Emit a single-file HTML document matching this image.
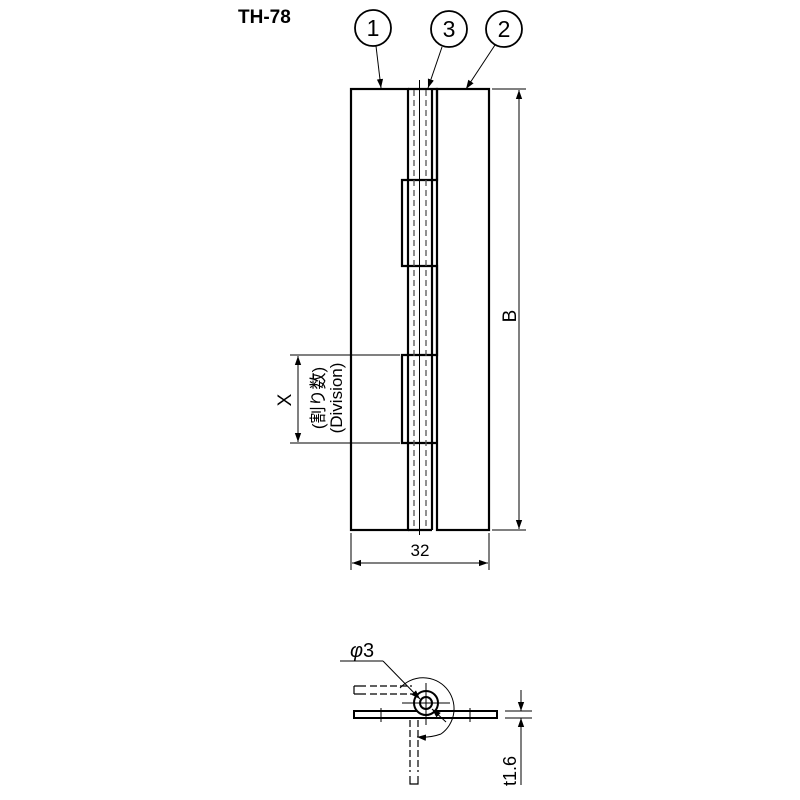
<!DOCTYPE html>
<html><head><style>body{margin:0;background:#fff}svg{display:block}</style></head><body>
<svg width="800" height="800" viewBox="0 0 800 800" font-family="Liberation Sans, Noto Sans CJK JP, sans-serif">
<defs><marker id="a" viewBox="0 0 10 10" refX="10" refY="5" markerWidth="9" markerHeight="9" orient="auto-start-reverse" markerUnits="userSpaceOnUse"><path d="M0,1.5 L10,5 L0,8.5 z" fill="#000"/></marker></defs>
<text x="238" y="23" font-size="19" font-weight="bold">TH-78</text>
<g fill="none" stroke="#000" stroke-width="1.8">
<circle cx="373" cy="28" r="18"/><circle cx="449" cy="29" r="18"/><circle cx="504" cy="29" r="18"/>
</g>
<g font-size="23" text-anchor="middle"><text x="373" y="36">1</text><text x="449" y="37">3</text><text x="504" y="37">2</text></g>
<g stroke="#000" stroke-width="1"><line x1="376" y1="46" x2="381" y2="88" marker-end="url(#a)"/><line x1="442" y1="47" x2="428" y2="88" marker-end="url(#a)"/><line x1="495" y1="45" x2="466" y2="89" marker-end="url(#a)"/></g>
<g fill="none" stroke="#000" stroke-width="2.2">
<rect x="351" y="89" width="57" height="441"/>
<rect x="437" y="89" width="52" height="441"/>
<polyline points="408,89 437,89 437,180 402,180 402,266 437,266 437,355 402,355 402,443 437,443"/>
<line x1="432" y1="89" x2="432" y2="530"/>
<line x1="408" y1="530" x2="432" y2="530"/>
</g>
<g stroke="#555" stroke-width="1.3" stroke-dasharray="6,4"><line x1="414" y1="90" x2="414" y2="530"/><line x1="426" y1="90" x2="426" y2="530"/></g>
<line x1="419.5" y1="80" x2="419.5" y2="535" stroke="#000" stroke-width="1"/>
<g stroke="#000" stroke-width="1">
<line x1="492" y1="89" x2="526" y2="89"/><line x1="492" y1="530" x2="526" y2="530"/>
<line x1="519" y1="90" x2="519" y2="529" marker-start="url(#a)" marker-end="url(#a)"/>
<line x1="351" y1="533" x2="351" y2="570"/><line x1="489" y1="533" x2="489" y2="570"/>
<line x1="352" y1="563" x2="488" y2="563" marker-start="url(#a)" marker-end="url(#a)"/>
<line x1="290" y1="355" x2="400" y2="355"/><line x1="290" y1="443" x2="400" y2="443"/>
<line x1="298" y1="356" x2="298" y2="442" marker-start="url(#a)" marker-end="url(#a)"/>
</g>
<text font-size="19" text-anchor="middle" transform="translate(516,316) rotate(-90)">B</text>
<text x="420" y="556" font-size="17" text-anchor="middle">32</text>
<text font-size="19" transform="translate(291,400) rotate(-90)" text-anchor="middle">X</text>
<text font-size="17" transform="translate(324,398) rotate(-90)" text-anchor="middle">(割り数)</text>
<text font-size="17" transform="translate(342,398) rotate(-90)" text-anchor="middle">(Division)</text>
<g fill="none" stroke="#000" stroke-width="2">
<rect x="354" y="711" width="143" height="7"/>
<circle cx="426" cy="703" r="12" fill="#fff"/>
<circle cx="426" cy="703" r="6"/>
</g>
<g stroke="#000" stroke-width="1.2" fill="none">
<path d="M354,686 H366 M354,694 H366 M354,686 V694"/>
<path d="M370,686 H412 M370,694 H414" stroke-dasharray="7,3"/>
<path d="M410,720 V772 M418,720 V772" stroke-dasharray="7,3"/>
<path d="M410,776 V784 H418 V776"/>
</g>
<g stroke="#000" stroke-width="1" fill="none">
<line x1="426" y1="683" x2="426" y2="725"/><line x1="402" y1="703" x2="450" y2="703"/>
<line x1="381" y1="708" x2="381" y2="722"/><line x1="470" y1="708" x2="470" y2="722"/>
<path d="M400,688 A31,31 0 1 1 441,734"/>
<path d="M441,734 Q430,738 417,737" marker-end="url(#a)"/>
<line x1="340" y1="661" x2="383" y2="661"/><line x1="383" y1="661" x2="420" y2="699" marker-end="url(#a)"/>
<line x1="432" y1="709" x2="446" y2="722" marker-start="url(#a)"/>
<line x1="505" y1="711" x2="532" y2="711"/><line x1="505" y1="718" x2="532" y2="718"/>
<line x1="521" y1="690" x2="521" y2="711" marker-end="url(#a)"/>
<line x1="521" y1="785" x2="521" y2="718" marker-end="url(#a)"/>
</g>
<text x="350" y="657" font-size="20" font-style="italic">φ<tspan font-style="normal">3</tspan></text>
<text font-size="18" transform="translate(516,771) rotate(-90)" text-anchor="middle">t1.6</text>
</svg>
</body></html>
